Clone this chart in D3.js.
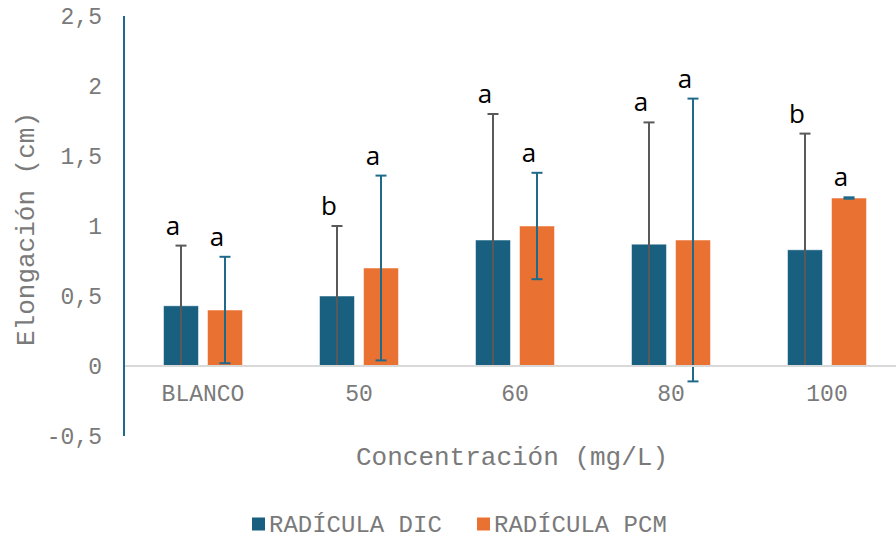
<!DOCTYPE html>
<html><head><meta charset="utf-8">
<script src="https://cdn.jsdelivr.net/npm/d3@7"></script>
<style>body{margin:0;background:#fff}svg{display:block}</style>
</head><body>
<svg id="c" width="896" height="538"></svg>
<script>
const categories = ["BLANCO","50","60","80","100"];
const series = ["RADÍCULA DIC","RADÍCULA PCM"];
const dicValues = [0.43,0.50,0.90,0.87,0.83];
const dicErrors = [0.43,0.50,0.90,0.87,0.83];
const pcmValues = [0.40,0.70,1.00,0.90,1.20];
const pcmErrors = [0.38,0.66,0.38,1.01,0.005];
const dicLetters = ["a","b","a","a","b"];
const pcmLetters = ["a","a","a","a","a"];
const yTicks = [-0.5,0,0.5,1,1.5,2,2.5];
const yTickLabels = ["-0,5","0","0,5","1","1,5","2","2,5"];
const yTitle = "Elongación (cm)";
const xTitle = "Concentración (mg/L)";

const colors = {"RADÍCULA DIC":"#185f80","RADÍCULA PCM":"#e97132"};
const errColors = {"RADÍCULA DIC":"#595959","RADÍCULA PCM":"#1f6a8a"};
const mono = "'Courier New','Liberation Mono',monospace";
const textGray = "#7a7a7a";

const svg = d3.select("#c");
const y = d3.scaleLinear().domain([-0.5,2.5]).range([436,16]);
const x0 = d3.scaleBand().domain(categories).range([125,905]);
const x1 = d3.scaleBand().domain(series).range([0,x0.bandwidth()]).paddingInner(9/44).paddingOuter(0.875);

const rows = [];
categories.forEach((c,i)=>{
  rows.push({cat:c, s:series[0], v:dicValues[i], e:dicErrors[i], l:dicLetters[i]});
  rows.push({cat:c, s:series[1], v:pcmValues[i], e:pcmErrors[i], l:pcmLetters[i]});
});

// y tick labels
svg.append("g").selectAll("text").data(yTicks).join("text")
  .attr("x",102).attr("y",d=>y(d)).attr("dy","0.35em")
  .attr("text-anchor","end").attr("font-family",mono).attr("font-size",23)
  .attr("fill",textGray).text((d,i)=>yTickLabels[i]);

// bars
svg.append("g").selectAll("rect").data(rows).join("rect")
  .attr("x",d=>x0(d.cat)+x1(d.s)).attr("width",x1.bandwidth())
  .attr("y",d=>y(d.v)).attr("height",d=>y(0)-y(d.v))
  .attr("fill",d=>colors[d.s]).attr("stroke","#ffffff").attr("stroke-opacity",0.5).attr("stroke-width",1);

// error bars
const eg = svg.append("g").selectAll("g").data(rows).join("g");
eg.append("line")
  .attr("x1",d=>x0(d.cat)+x1(d.s)+x1.bandwidth()/2).attr("x2",d=>x0(d.cat)+x1(d.s)+x1.bandwidth()/2)
  .attr("y1",d=>y(d.v+d.e)).attr("y2",d=>y(d.v-d.e))
  .attr("stroke",d=>errColors[d.s]).attr("stroke-width",2);
[1,-1].forEach(sg=>{
  eg.append("line")
    .attr("x1",d=>x0(d.cat)+x1(d.s)+x1.bandwidth()/2-5.5).attr("x2",d=>x0(d.cat)+x1(d.s)+x1.bandwidth()/2+5.5)
    .attr("y1",d=>y(d.v+sg*d.e)).attr("y2",d=>y(d.v+sg*d.e))
    .attr("stroke",d=>(sg<0 && d.s===series[0])?"#d0d0d0":errColors[d.s]).attr("stroke-width",2);
});

// baseline
svg.append("line").attr("x1",124).attr("x2",896).attr("y1",y(0)).attr("y2",y(0))
  .attr("stroke","#d9d9d9").attr("stroke-width",2);
// y axis line
svg.append("line").attr("x1",124).attr("x2",124).attr("y1",y(2.5)).attr("y2",y(-0.5))
  .attr("stroke","#1f6a8a").attr("stroke-width",2);

// letters
svg.append("g").selectAll("text").data(rows).join("text")
  .attr("x",d=>x0(d.cat)+x1(d.s)+x1.bandwidth()/2-8)
  .attr("y",d=>y(d.v+d.e)-11)
  .attr("text-anchor","middle").attr("font-family","'Open Sans','Noto Sans',sans-serif")
  .attr("font-size",26).attr("fill","#000").text(d=>d.l);

// x tick labels
svg.append("g").selectAll("text").data(categories).join("text")
  .attr("x",d=>x0(d)+x0.bandwidth()/2).attr("y",393).attr("dy","0.35em")
  .attr("text-anchor","middle").attr("font-family",mono).attr("font-size",23)
  .attr("fill",textGray).text(d=>d);

// axis titles
svg.append("text").attr("x",512).attr("y",456).attr("dy","0.35em").attr("text-anchor","middle")
  .attr("font-family",mono).attr("font-size",26).attr("fill",textGray).text(xTitle);
svg.append("text").attr("transform","translate(25,229) rotate(-90)").attr("dy","0.35em")
  .attr("text-anchor","middle").attr("font-family",mono).attr("font-size",26).attr("fill",textGray).text(yTitle);

// legend
const legX = [252,477];
const lg = svg.append("g").selectAll("g").data(series).join("g")
  .attr("transform",(d,i)=>`translate(${legX[i]},524)`);
lg.append("rect").attr("x",0).attr("y",-6.5).attr("width",13).attr("height",13).attr("fill",d=>colors[d]);
lg.append("text").attr("x",17).attr("y",0).attr("dy","0.35em").attr("font-family",mono)
  .attr("font-size",24).attr("fill",textGray).text(d=>d);
</script>
</body></html>
